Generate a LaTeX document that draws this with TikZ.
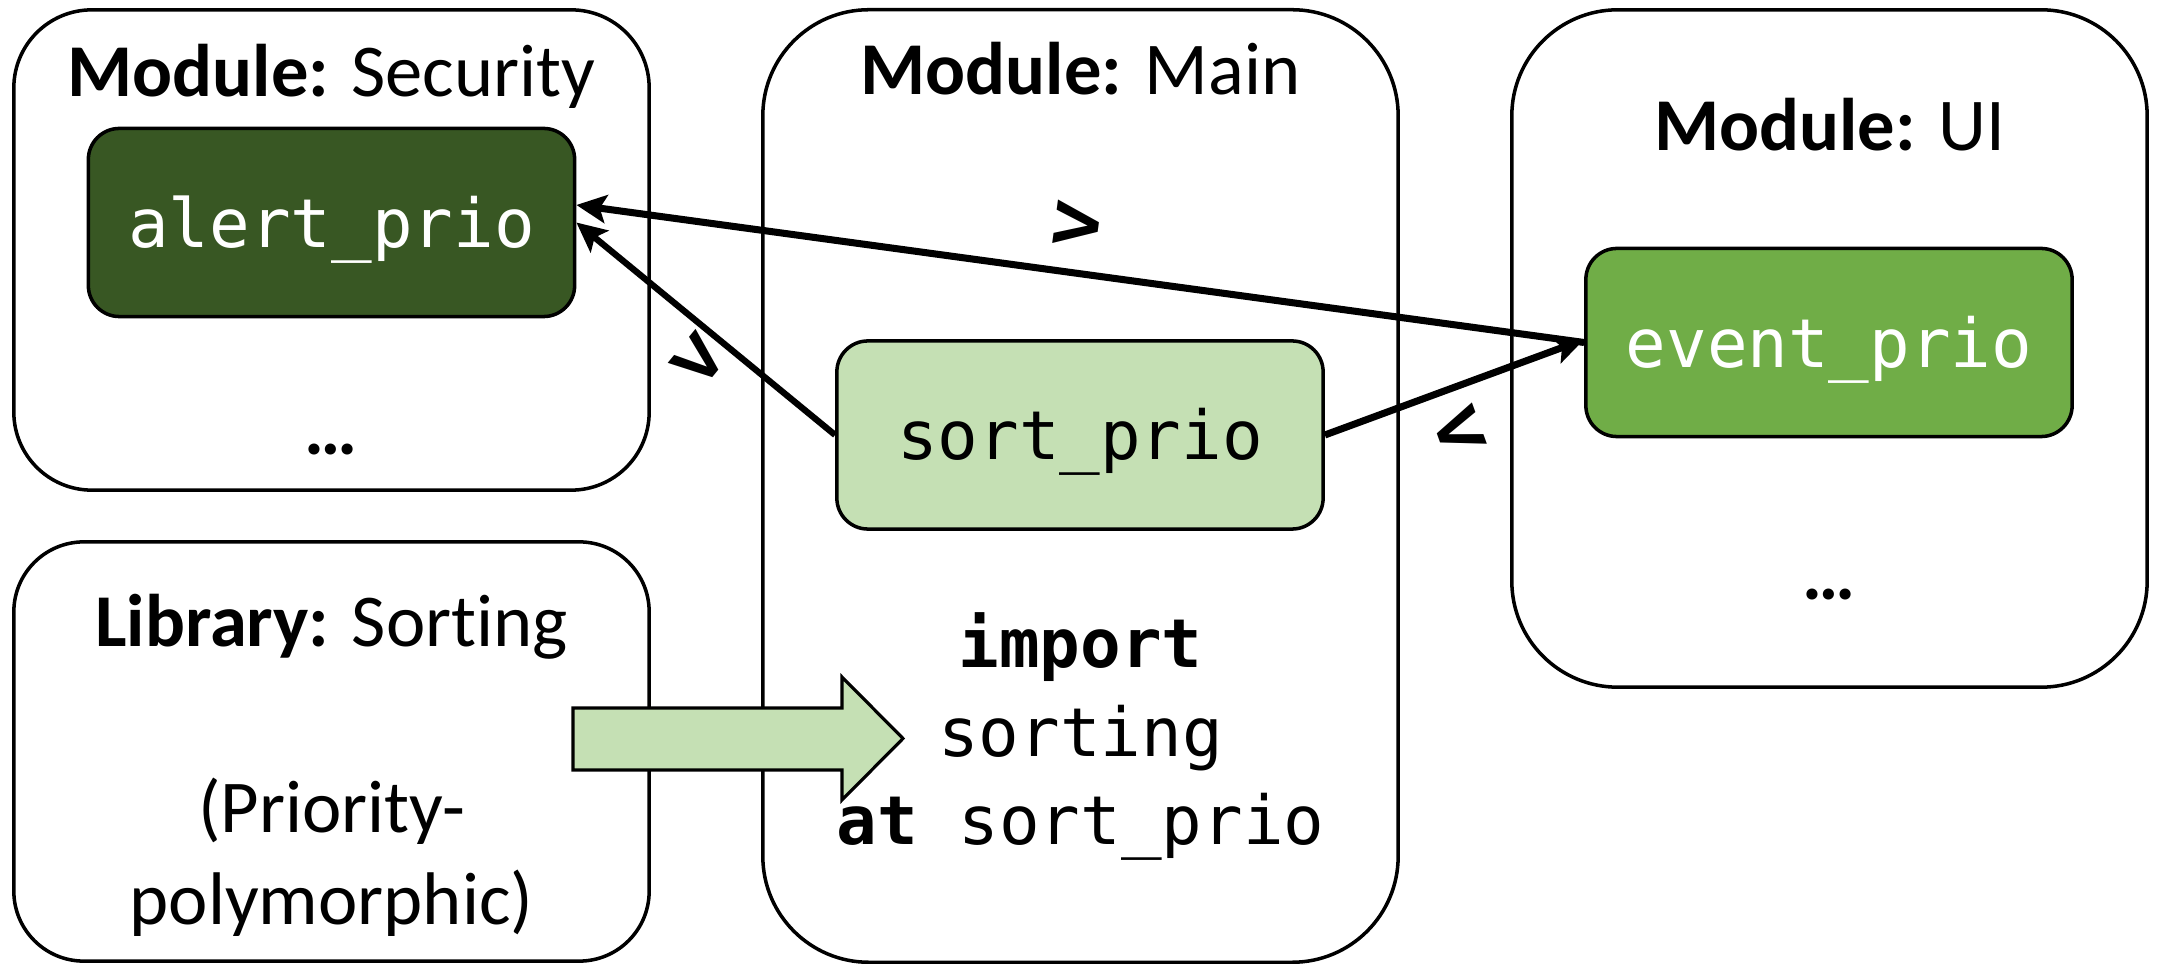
\documentclass[tikz,border=0pt]{standalone}
\usepackage{fontspec}
\setmainfont{Carlito}[Ligatures=NoCommon]
\newfontfamily\codefont{DejaVu Sans Mono}
\usetikzlibrary{arrows.meta}
\definecolor{darkgreen}{HTML}{385723}
\definecolor{midgreen}{HTML}{70AD47}
\definecolor{lightgreen}{HTML}{C5E0B4}
\begin{document}
\begin{tikzpicture}[x=0.01cm,y=-0.01cm,
  module/.style={draw, line width=1pt, minimum width=6.35cm, inner sep=0pt},
  func/.style={draw, line width=1pt, rounded corners=0.31cm, minimum width=4.86cm,
    minimum height=1.88cm, inner sep=0pt, text height=14pt, text depth=0pt,
    font=\codefont\fontsize{19.2}{25}\selectfont},
  head/.style={anchor=base, inner sep=0pt, font=\fontsize{21.2}{26}\selectfont},
  code/.style={anchor=base, inner sep=0pt, font=\codefont\fontsize{19.2}{25}\selectfont},
  conn/.style={-{Stealth[length=8.5pt,width=8pt,inset=1.8pt]}, line width=2pt},
  cmp/.style={inner sep=0pt, font=\codefont\bfseries\fontsize{24}{24}\selectfont}
]
\useasboundingbox (0,0) rectangle (2159,964);
% module boxes
\node[module, rounded corners=0.78cm, minimum height=4.80cm] (sec) at (331.5,250) {};
\node[module, rounded corners=0.70cm, minimum height=4.19cm] (lib) at (331.5,751.5) {};
\node[module, rounded corners=1.06cm, minimum height=9.52cm] (main) at (1080.5,486) {};
\node[module, rounded corners=1.06cm, minimum height=6.77cm] (ui) at (1829.5,348.5) {};
% headings
\node[head] (sech) at (331.5,97) {\textbf{Module:} Security};
\node[head] (mainh) at (1080.5,95) {\textbf{Module:} Main};
\node[head] (uih) at (1829.5,151) {\textbf{Module:} UI};
\node[head] (libh) at (331.5,647) {\textbf{Library:} Sorting};
\node[head] (libt1) at (331.5,833) {(Priority-};
\node[head] (libt2) at (331.5,925) {polymorphic)};
\node[head] (secd) at (331.5,455) {\textbf{…}};
\node[head] (uid) at (1829.5,600) {\textbf{…}};
% functions
\node[func, fill=darkgreen, text=white] (alert) at (331.5,222.5) {alert\_prio};
\node[func, fill=lightgreen] (sort) at (1080,435) {sort\_prio};
\node[func, fill=midgreen, text=white] (event) at (1829,342.5) {event\_prio};
% import text
\node[code] (imp1) at (1080.5,668) {\textbf{import}};
\node[code] (imp2) at (1080.5,757) {sorting};
\node[code] (imp3) at (1080.5,845) {\textbf{at} sort\_prio};
% block arrow
\draw[line width=0.9pt, fill=lightgreen, line join=miter]
  (573,708) -- (842,708) -- (842,677) -- (903,738.5) -- (842,800) -- (842,770) -- (573,770) -- cycle;
% connectors
\draw[conn] (event.west) -- ([yshift=0.175cm]alert.east);
\draw[conn, line width=1.8pt] (sort.west) -- (alert.east);
\draw[conn] (sort.east) -- ([yshift=0.03cm]event.west);
% comparison labels
\node[cmp, rotate=-7.6] (gt1) at (1077,227) {>};
\node[cmp, rotate=-39.3] (gt2) at (698,362) {>};
\node[cmp, rotate=19.9] (lt) at (1460,433) {<};
\end{tikzpicture}
\end{document}
